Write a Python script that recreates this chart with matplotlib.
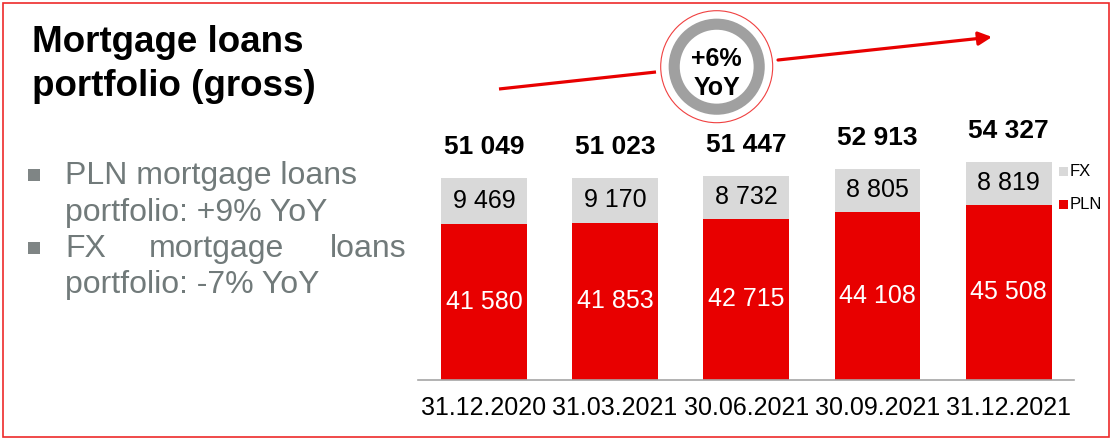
import matplotlib.pyplot as plt
from matplotlib.patches import Rectangle, Circle
import numpy as np

# data
dates = ['31.12.2020', '31.03.2021', '30.06.2021', '30.09.2021', '31.12.2021']
pln = [41580, 41853, 42715, 44108, 45508]
fx = [9469, 9170, 8732, 8805, 8819]
totals = [51049, 51023, 51447, 52913, 54327]

RED = '#E80000'
GREY = '#D9D9D9'
TXT_GREY = '#717A7A'

plt.rcParams['font.family'] = ['Liberation Sans', 'DejaVu Sans']


def fmt(v):
    return f'{v:,}'.replace(',', ' ')


W, H = 1111, 441
fig = plt.figure(figsize=(W / 100, H / 100), dpi=100)

# overlay in pixel coordinates for the slide decoration
ov = fig.add_axes([0, 0, 1, 1])
ov.set_xlim(0, W)
ov.set_ylim(H, 0)
ov.axis('off')

# red frame
ov.add_patch(Rectangle((3, 3), 1106, 434, fill=False, edgecolor='#EE2A2A', lw=1.2))

# title
ov.text(32, 52, 'Mortgage loans', fontsize=26.5, fontweight='bold', va='baseline', ha='left')
ov.text(32, 96, 'portfolio (gross)', fontsize=26.5, fontweight='bold', va='baseline', ha='left')

# bullets
for yb in [184, 257]:
    ov.add_patch(Rectangle((28, yb - 15), 12, 12, color='#7F8585', lw=0))
ov.text(65, 184, 'PLN mortgage loans', fontsize=23, color=TXT_GREY, va='baseline')
ov.text(65, 221, 'portfolio: +9% YoY', fontsize=23, color=TXT_GREY, va='baseline')
ov.text(65, 257, 'FX', fontsize=23, color=TXT_GREY, va='baseline')
ov.text(216, 257, 'mortgage', fontsize=23, color=TXT_GREY, va='baseline', ha='center')
ov.text(407, 257, 'loans', fontsize=23, color=TXT_GREY, va='baseline', ha='right')
ov.text(65, 293, 'portfolio: -7% YoY', fontsize=23, color=TXT_GREY, va='baseline')

# growth arrow and YoY badge
ov.plot([499, 656], [89, 72], color=RED, lw=2.3, solid_capstyle='butt')
ov.annotate('', xy=(992, 37), xytext=(778, 60),
            arrowprops=dict(arrowstyle='-|>,head_length=0.8,head_width=0.4',
                            color=RED, lw=2.3, shrinkA=0, shrinkB=0))
cx, cy = 716.7, 66.7
ov.add_patch(Circle((cx, cy), 56, facecolor='white', edgecolor='#F04040', lw=0.8))
ov.add_patch(Circle((cx, cy), 42.5, facecolor='white', edgecolor='#A0A0A0', lw=8))
ov.text(cx, 59, '+6%', fontsize=18, fontweight='bold', ha='center', va='center')
ov.text(cx, 88, 'YoY', fontsize=18, fontweight='bold', ha='center', va='center')

# legend
ov.add_patch(Rectangle((1059, 167), 9, 9, color=GREY, lw=0))
ov.text(1070, 171.5, 'FX', fontsize=12, va='center')
ov.add_patch(Rectangle((1059, 200), 9, 9, color=RED, lw=0))
ov.text(1070, 204.5, 'PLN', fontsize=12, va='center')

# bar chart (value axis starts at 10 000, bars cut at the baseline)
px_per_unit = 0.00492
ax_left, ax_right = 418.3, 1074.3
ax_bottom, ax_top = 379.7, 100
ymin = 10000
ymax = ymin + (ax_bottom - ax_top) / px_per_unit
ax = fig.add_axes([ax_left / W, (H - ax_bottom) / H,
                   (ax_right - ax_left) / W, (ax_bottom - ax_top) / H])
ax.patch.set_alpha(0)

x = np.arange(len(dates))
ax.bar(x, pln, width=0.655, color=RED, lw=0)
ax.bar(x, fx, bottom=pln, width=0.655, color=GREY, lw=0)
ax.set_xlim(-0.5, 4.5)
ax.set_ylim(ymin, ymax)

for i in range(len(dates)):
    ax.text(x[i], (pln[i] + ymin) / 2, fmt(pln[i]), ha='center', va='center',
            fontsize=18, color='white')
    ax.text(x[i], pln[i] + fx[i] / 2, fmt(fx[i]), ha='center', va='center',
            fontsize=18, color='black')
    ax.annotate(fmt(totals[i]), xy=(x[i], totals[i]),
                xytext=(0, 22), textcoords='offset points',
                ha='center', va='center', fontsize=19, fontweight='bold')

for s in ['top', 'right', 'left']:
    ax.spines[s].set_visible(False)
ax.spines['bottom'].set_color('#A6A6A6')
ax.spines['bottom'].set_linewidth(1.2)
ax.set_yticks([])
ax.set_xticks(x)
ax.set_xticklabels(dates, fontsize=18)
ax.tick_params(axis='x', length=0, pad=12)

fig.savefig('out.png', dpi=100)
